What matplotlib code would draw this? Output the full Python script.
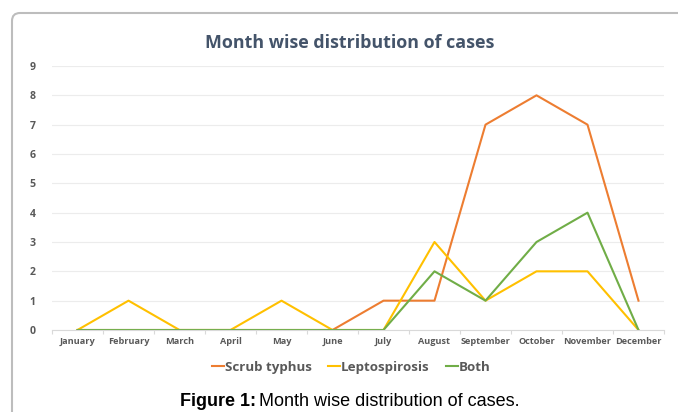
import matplotlib.pyplot as plt
from matplotlib.patches import FancyBboxPatch
from matplotlib.lines import Line2D

# 数据
months = ['January', 'February', 'March', 'April', 'May', 'June',
          'July', 'August', 'September', 'October', 'November', 'December']
scrub_typhus = [0, 0, 0, 0, 0, 0, 1, 1, 7, 8, 7, 1]
leptospirosis = [0, 1, 0, 0, 1, 0, 0, 3, 1, 2, 2, 0]
both = [0, 0, 0, 0, 0, 0, 0, 2, 1, 3, 4, 0]
series_names = ['Scrub typhus', 'Leptospirosis', 'Both']
series_colors = ['#ED7D31', '#FFC000', '#70AD47']

plt.rcParams['font.family'] = ['Open Sans', 'DejaVu Sans']
txt_col = '#595959'
W, H = 678, 412

fig = plt.figure(figsize=(6.78, 4.12), dpi=100)

# 外框（圆角）
frame = FancyBboxPatch((0.12, -0.5), 7.0, 4.49,
                       boxstyle='round,pad=0,rounding_size=0.08',
                       transform=fig.dpi_scale_trans, zorder=-5,
                       facecolor='white', edgecolor='#bdbdbd', linewidth=1.5)
fig.patches.append(frame)

ax = fig.add_axes([52/W, 1 - 330/H, 612/W, 264/H])
ax.set_zorder(2)
ax.set_facecolor('none')
x = range(len(months))
for vals, name, col in zip([scrub_typhus, leptospirosis, both], series_names, series_colors):
    ax.plot(x, vals, color=col, lw=1.5, label=name)

ax.set_xlim(-0.5, 11.5)
ax.set_ylim(0, 9)
ax.set_yticks(range(10))
ax.set_xticks(list(x))
ax.set_xticklabels(months, fontsize=6.6, fontweight='bold', color=txt_col)
ax.set_xticks([i + 0.5 for i in range(-1, 12)], minor=True)
for lab in ax.get_yticklabels():
    lab.set_fontsize(7.6)
    lab.set_fontweight('bold')
    lab.set_color(txt_col)
ax.tick_params(axis='y', length=0, pad=12)
ax.tick_params(axis='x', which='major', length=0, pad=5)
ax.tick_params(axis='x', which='minor', length=3, color='#d9d9d9', width=0.8)
ax.grid(axis='y', color='#ececec', lw=0.8)
for s in ['top', 'right', 'left']:
    ax.spines[s].set_visible(False)
ax.spines['bottom'].set_color('#d9d9d9')
ax.spines['bottom'].set_linewidth(0.8)

fig.text(350/W, 1 - 43/H, 'Month wise distribution of cases',
         ha='center', va='center', fontsize=12.9, fontweight='bold', color='#44546A')

# 图例（手动排布，文字基线对齐）
renderer = fig.canvas.get_renderer()
leg_y = 1 - 366/H
px = 212
for name, col in zip(series_names, series_colors):
    fig.add_artist(Line2D([px/W, (px + 12)/W], [leg_y, leg_y], color=col, lw=1.5,
                          transform=fig.transFigure))
    t = fig.text((px + 13)/W, leg_y, name, ha='left', va='center_baseline',
                 fontsize=9.6, fontweight='bold', color=txt_col)
    bb = t.get_window_extent(renderer)
    px = bb.x1 + 16

fig.text(256/W, 1 - 402/H, 'Figure 1:', ha='right', va='center',
         fontsize=13, fontweight='bold', family='Liberation Sans')
fig.text(259/W, 1 - 402/H, 'Month wise distribution of cases.', ha='left',
         va='center', fontsize=13, family='Liberation Sans')

fig.savefig('out.png', dpi=100)
